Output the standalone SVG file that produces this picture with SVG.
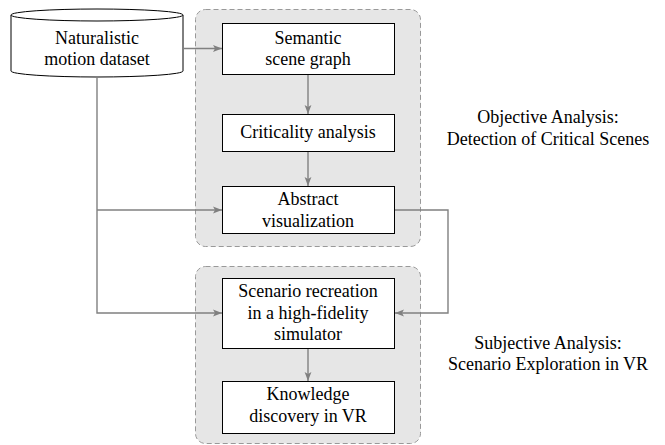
<svg xmlns="http://www.w3.org/2000/svg" width="665" height="445" viewBox="0 0 665 445">
<defs>
<marker id="ah" markerWidth="10" markerHeight="8" refX="9" refY="4" orient="auto" markerUnits="userSpaceOnUse">
<path d="M0,0.6 L9,4 L0,7.4 L2,4 Z" fill="#808080"/>
</marker>
</defs>
<style>
.grp{fill:#e6e6e6;stroke:#999;stroke-width:1;stroke-dasharray:5,3}
.box{fill:#fff;stroke:#000;stroke-width:1}
.t{font-family:"Liberation Serif","Times New Roman",serif;font-size:18px;fill:#000;text-anchor:middle}
.c{fill:none;stroke:#808080;stroke-width:1.4}
</style>
<rect width="665" height="445" fill="#fff"/>
<g id="group-objective">
<rect class="grp" x="195.5" y="9.5" width="225" height="237" rx="10"/>
</g>
<g id="group-subjective">
<rect class="grp" x="195.5" y="266.5" width="225" height="177" rx="10"/>
</g>
<g id="dataset">
<path class="box" d="M11,15 V71 A86,6 0 0 0 183,71 V15"/>
<ellipse class="box" cx="97" cy="15" rx="86" ry="6"/>
<text class="t" x="97" y="44">Naturalistic</text>
<text class="t" x="97" y="65">motion dataset</text>
</g>
<g id="semantic">
<rect class="box" x="222.5" y="23.5" width="172" height="51"/>
<text class="t" x="308" y="44">Semantic</text>
<text class="t" x="308" y="65">scene graph</text>
</g>
<g id="criticality">
<rect class="box" x="222.5" y="114.5" width="172" height="37"/>
<text class="t" x="308" y="137.5">Criticality analysis</text>
</g>
<g id="abstract">
<rect class="box" x="222.5" y="186.5" width="172" height="47"/>
<text class="t" x="308" y="205">Abstract</text>
<text class="t" x="308" y="226.5">visualization</text>
</g>
<g id="scenario">
<rect class="box" x="222.5" y="278.5" width="172" height="70"/>
<text class="t" x="308" y="297">Scenario recreation</text>
<text class="t" x="308" y="318.5">in a high-fidelity</text>
<text class="t" x="308" y="340">simulator</text>
</g>
<g id="knowledge">
<rect class="box" x="222.5" y="381.5" width="172" height="52"/>
<text class="t" x="308" y="400">Knowledge</text>
<text class="t" x="308" y="421.5">discovery in VR</text>
</g>
<g id="labels">
<text class="t" x="548" y="123">Objective Analysis:</text>
<text class="t" x="548" y="145">Detection of Critical Scenes</text>
<text class="t" x="548" y="349">Subjective Analysis:</text>
<text class="t" x="548" y="370">Scenario Exploration in VR</text>
</g>
<g id="connectors">
<path class="c" d="M183,48.5 H222" marker-end="url(#ah)"/>
<path class="c" d="M308,75 V114" marker-end="url(#ah)"/>
<path class="c" d="M308,152 V186" marker-end="url(#ah)"/>
<path class="c" d="M97,77 V313 H222" marker-end="url(#ah)"/>
<path class="c" d="M97,210 H222" marker-end="url(#ah)"/>
<path class="c" d="M395,210 H448 V313 H395" marker-end="url(#ah)"/>
<path class="c" d="M308,349 V381" marker-end="url(#ah)"/>
</g>
</svg>
